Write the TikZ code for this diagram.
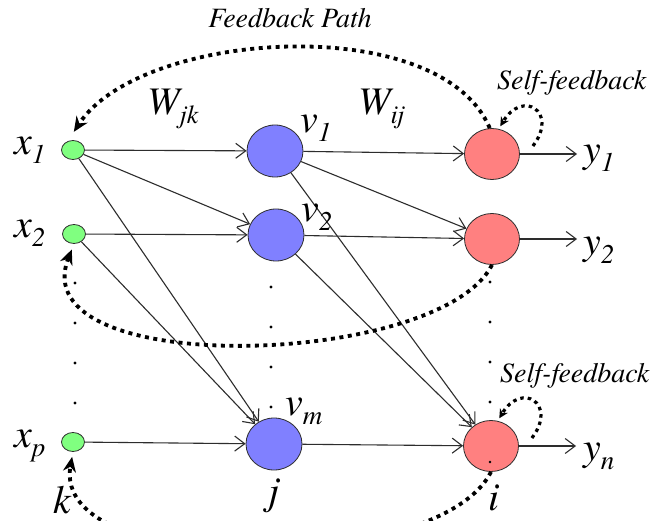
\documentclass[tikz,border=0pt]{standalone}
\usepackage{fontspec}
\setmainfont{texgyretermes}[Extension=.otf,UprightFont=*-regular,ItalicFont=*-italic,BoldFont=*-bold,BoldItalicFont=*-bolditalic]
\usetikzlibrary{arrows.meta,shapes.geometric}
\definecolor{gfill}{RGB}{128,255,128}
\definecolor{bfill}{RGB}{128,128,255}
\definecolor{rfill}{RGB}{255,128,128}
\definecolor{edgec}{RGB}{45,45,45}
\newcommand{\lbl}[2]{{\fontsize{40}{40}\selectfont\itshape #1\raisebox{-9pt}{\fontsize{27}{27}\selectfont\itshape #2}}}
\newcommand{\wlbl}[2]{{\fontsize{39}{39}\selectfont\itshape #1\raisebox{-9pt}{\fontsize{26}{26}\selectfont\itshape #2}}}
\begin{document}
\begin{tikzpicture}[x=1pt,y=-1pt,
  inp/.style={ellipse,draw=edgec,line width=0.8pt,fill=gfill,minimum width=23pt,minimum height=19pt,inner sep=0pt},
  hid/.style={ellipse,draw=edgec,line width=0.8pt,fill=bfill,minimum width=56pt,minimum height=52pt,inner sep=0pt},
  outn/.style={ellipse,draw=edgec,line width=0.8pt,fill=rfill,minimum width=55pt,minimum height=51pt,inner sep=0pt},
  lab/.style={anchor=base west,inner sep=0pt},
  big/.style={font=\fontsize{40}{40}\selectfont\itshape},
  small/.style={font=\fontsize{28}{28}\selectfont\itshape,inner sep=0pt},
  conn/.style={draw=edgec,line width=1.1pt,-{Straight Barb[length=10pt,width=15pt]}},
  fb/.style={draw=black,line width=3.8pt,dash pattern=on 4pt off 4.5pt,-{Stealth[length=15pt,width=13pt]}},
  fbs/.style={draw=black,line width=3.2pt,dash pattern=on 3.5pt off 4pt,-{Stealth[length=9pt,width=9pt]}},
  dotm/.style={fill=black}]
\useasboundingbox (0,0) rectangle (669,521);
\fill[white] (0,0) rectangle (669,521);
\clip (0,0) rectangle (669,521);

% neurons
\node[inp] (x1) at (73,150) {};
\node[inp] (x2) at (74,234) {};
\node[inp] (xp) at (73,442) {};
\node[hid] (v1) at (275,151) {};
\node[hid] (v2) at (276,235) {};
\node[hid] (vm) at (274,444) {};
\node[outn] (r1) at (492,154) {};
\node[outn] (r2) at (492,239) {};
\node[outn] (r3) at (491,446) {};
\coordinate (y1e) at (577,154);
\coordinate (y2e) at (577,239);
\coordinate (yne) at (576,446);

% dots
\foreach \yy in {283,323,363,403} \fill[dotm] (75,\yy) circle (1.7);
\foreach \yy in {287,327,367,407} \fill[dotm] (271,\yy) circle (1.7);
\foreach \yy in {282,322,362,402} \fill[dotm] (490,\yy) circle (1.7);
\fill[dotm] (490,462) circle (1.3);

% connections
\draw[conn] (x1) -- (v1);
\draw[conn] (x1) -- (v2);
\draw[conn] (x1) -- (vm);
\draw[conn] (x2) -- (v2);
\draw[conn] (x2) -- (vm);
\draw[conn] (xp) -- (vm);
\draw[conn] (v1) -- (r1);
\draw[conn] (v1) -- (r2);
\draw[conn] (v1) -- (r3);
\draw[conn] (v2) -- (r2);
\draw[conn] (v2) -- (r3);
\draw[conn] (vm) -- (r3);
\draw[conn] (r1) -- (y1e);
\draw[conn] (r2) -- (y2e);
\draw[conn] (r3) -- (yne);

% feedback paths
\draw[fb,shorten >=11pt] (r1.95) .. controls (440,10) and (140,30) .. (x1.120);
\draw[fb,shorten >=6pt] (r2.south) .. controls (440,368) and (20,380) .. (x2.south);
\draw[fb,shorten >=5pt] (r3.south) .. controls (440,575) and (50,580) .. (xp.south);
\draw[fbs,shorten >=3pt] ([shift={(13,-8)}]r1.east) .. controls +(26,-34) and +(24,-40) .. (r1.75);
\draw[fbs,shorten >=3pt] ([shift={(13,-8)}]r3.east) .. controls +(26,-34) and +(24,-40) .. (r3.75);

% labels
\node[lab] (lx1) at (14,155) {\lbl{x}{1}};
\node[lab] (lx2) at (14,238) {\lbl{x}{2}};
\node[lab] (lxp) at (14,447) {\lbl{x}{p}};
\node[lab,big] (lk) at (53,513) {k};
\node[lab] (lv1) at (300,133) {\lbl{v}{1}};
\node[lab] (lv2) at (301,222) {\lbl{v}{2}};
\node[lab] (lvm) at (285,415) {\lbl{v}{m}};
\node[lab,big] (lj) at (268,504) {j};
\node[lab,big] (li) at (488,510) {i};
\node[lab] (ly1) at (583,163) {\lbl{y}{1}};
\node[lab] (ly2) at (583,255) {\lbl{y}{2}};
\node[lab] (lyn) at (583,460) {\lbl{y}{n}};
\node[lab] (wjk) at (147,115) {\wlbl{W}{jk}};
\node[lab] (wij) at (358,115) {\wlbl{W}{ij}};
\node[small,anchor=base] (fp) at (290,28) {Feedback Path};
\node[small,anchor=base west] (sf1) at (497,90) {Self-feedback};
\node[small,anchor=base west] (sf2) at (500,382) {Self-feedback};
\end{tikzpicture}
\end{document}
